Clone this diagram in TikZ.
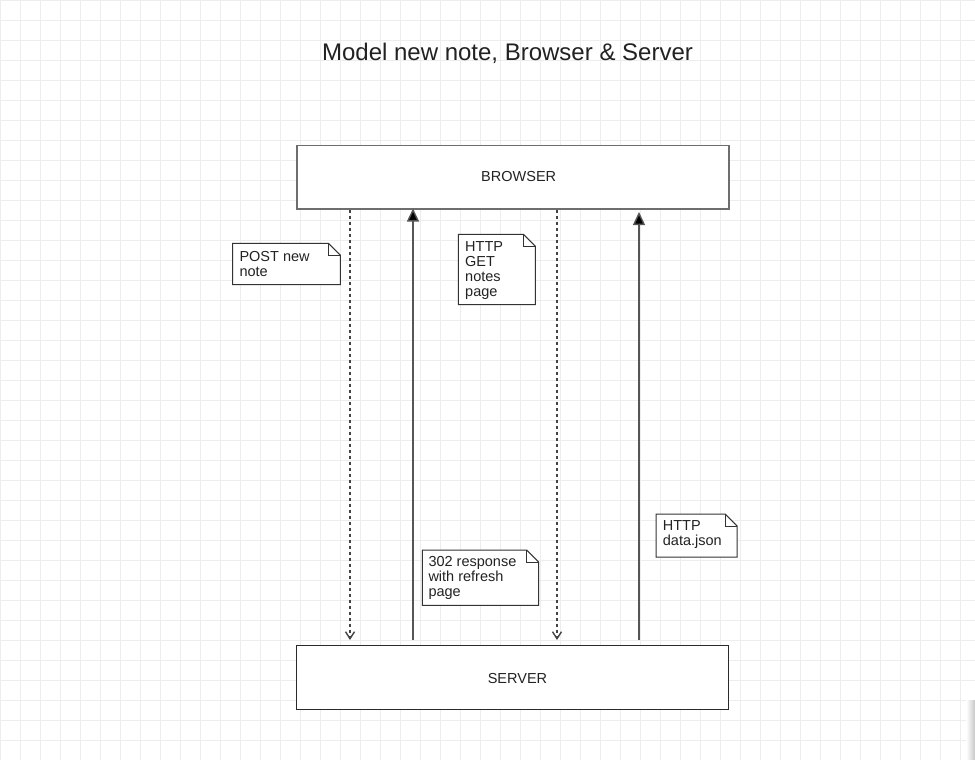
\documentclass[tikz,border=0pt]{standalone}
\usepackage{fontspec}
\setmainfont{Liberation Sans}
\usetikzlibrary{arrows.meta}
\definecolor{gridc}{HTML}{EDEDED}
\definecolor{boxc}{HTML}{6E6E6E}
\definecolor{serverc}{HTML}{2A2A2A}
\definecolor{linec}{HTML}{555555}
\definecolor{dashc}{HTML}{444444}
\definecolor{txtc}{HTML}{222222}
\definecolor{notec}{HTML}{333333}
\newcommand{\foldnote}[1]{%
  \draw[noteline, fill=white] (#1.north west) -- ([xshift=-12pt]#1.north east) -- ([yshift=-12pt]#1.north east) -- (#1.south east) -- (#1.south west) -- cycle;
  \draw[noteline] ([xshift=-12pt]#1.north east) -- ([xshift=-12pt,yshift=-12pt]#1.north east) -- ([yshift=-12pt]#1.north east);}
\begin{document}
\begin{tikzpicture}[x=1pt,y=-1pt,
  gridline/.style={draw=gridc, line width=1pt},
  lifebox/.style={draw=boxc, line width=1.5pt, fill=white, minimum width=432pt, minimum height=63.5pt, anchor=north west, inner sep=0pt},
  lifetext/.style={inner sep=0pt, text=txtc, font=\fontsize{14.5}{15}\selectfont},
  noteline/.style={draw=notec, line width=1pt},
  noteframe/.style={draw=none, anchor=north west, inner sep=0pt},
  notetext/.style={anchor=base west, inner sep=0pt, text=txtc, font=\fontsize{14.5}{15}\selectfont},
  dashline/.style={draw=dashc, line width=1.5pt, dash pattern=on 3pt off 3pt, -{Straight Barb[length=7pt,width=9pt,line width=1.4pt]}},
  solidline/.style={draw=linec, line width=1.4pt, -{Triangle[length=13pt,width=12pt,fill=black]}}
]
\useasboundingbox (0,0) rectangle (975,760);
\fill[white] (0,0) rectangle (975,760);
\foreach \i in {0,20,...,960} \draw[gridline] ({\i+0.5},0) -- ({\i+0.5},760);
\foreach \j in {0,20,...,760} \draw[gridline] (0,{\j+0.5}) -- (975,{\j+0.5});
\shade[left color=white, right color=black!22] (966,700) rectangle (975,760);

% title
\node[anchor=base, inner sep=0pt, text=txtc, font=\fontsize{24}{28}\selectfont] (title) at (507.5,60.7) {Model new note, Browser \& Server};

% lifeline boxes
\node[lifebox] (browser) at (296,144.5) {};
\node[lifetext, anchor=base] (browsert) at (518.7,181.7) {BROWSER};
\node[lifebox, draw=serverc, line width=1.3pt] (server) at (296,645) {};
\node[lifetext, anchor=base] (servert) at (517.5,683.5) {SERVER};

% connector end points
\coordinate (d1) at (350,640);
\coordinate (s1) at (413,640);
\coordinate (d2) at (557,640);
\coordinate (s2) at (639,640);

\draw[dashline] (browser.south -| d1) -- (d1);
\draw[solidline] (s1) -- ([yshift=1pt]browser.south -| s1);
\draw[dashline] (browser.south -| d2) -- (d2);
\draw[solidline] (s2) -- ([yshift=-2.5pt]browser.south -| s2);

% notes
\node[noteframe, minimum width=107.3pt, minimum height=41pt] (n1) at (232.7,243.3) {};
\foldnote{n1}
\node[notetext] (n1t) at (239.3,261.7) {\begin{tabular}[t]{@{}l@{}}POST new\\note\end{tabular}};

\node[noteframe, minimum width=76.7pt, minimum height=70pt] (n2) at (458.3,234.3) {};
\foldnote{n2}
\node[notetext] (n2t) at (465,251.7) {\begin{tabular}[t]{@{}l@{}}HTTP\\GET\\notes\\page\end{tabular}};

\node[noteframe, minimum width=116pt, minimum height=55pt] (n3) at (422.3,550) {};
\foldnote{n3}
\node[notetext] (n3t) at (428.3,566.7) {\begin{tabular}[t]{@{}l@{}}302 response\\with refresh\\page\end{tabular}};

\node[noteframe, minimum width=80.7pt, minimum height=42.7pt] (n4) at (656,514) {};
\foldnote{n4}
\node[notetext] (n4t) at (662.7,530.5) {\begin{tabular}[t]{@{}l@{}}HTTP\\data.json\end{tabular}};
\end{tikzpicture}
\end{document}
